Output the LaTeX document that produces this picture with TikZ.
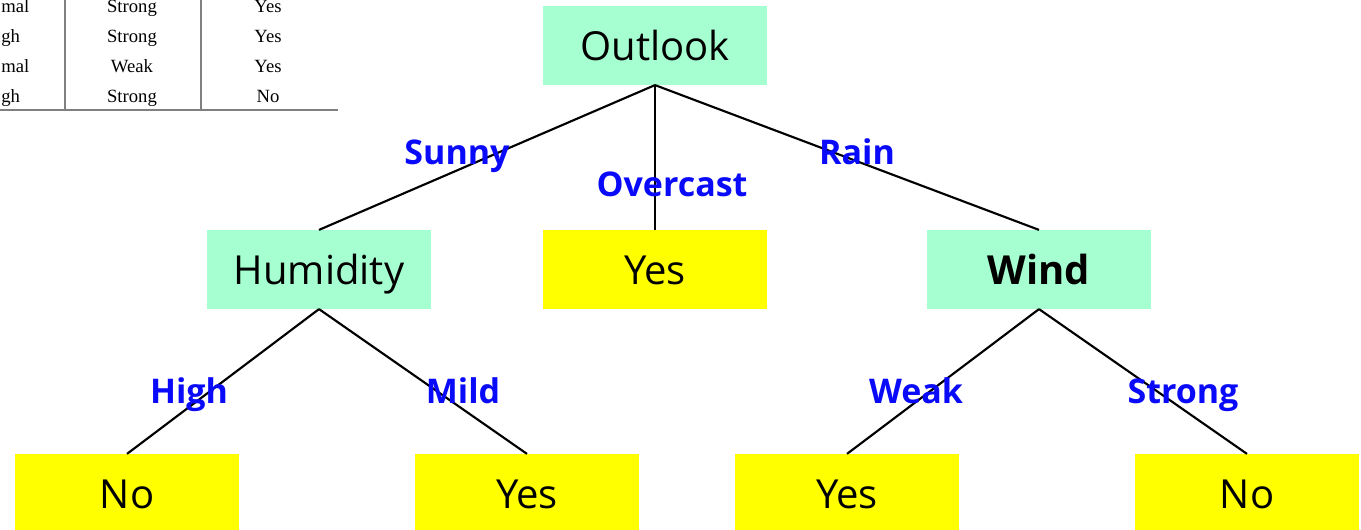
\documentclass[tikz,border=0pt]{standalone}
\usepackage{fontspec}
\setmainfont{Open Sans}
\newfontfamily\tablefont{Liberation Serif}
\usetikzlibrary{positioning}

\definecolor{attrgreen}{RGB}{166,255,208}
\definecolor{leafyellow}{RGB}{255,255,0}
\definecolor{branchblue}{RGB}{10,10,250}

\begin{document}
\begin{tikzpicture}[
        x=0.75pt, y=-0.75pt,
        attr/.style={rectangle, fill=attrgreen, minimum width=168pt, minimum height=59pt, inner sep=0pt, text height=22pt, text depth=0pt, font=\fontsize{30}{36}\selectfont},
        leaf/.style={rectangle, fill=leafyellow, minimum width=168pt, minimum height=59pt, inner sep=0pt, text height=22pt, text depth=0pt, font=\fontsize{30}{36}\selectfont},
        branch/.style={text=branchblue, font=\fontsize{25.5}{30}\selectfont\bfseries, inner sep=0pt, text height=18pt, text depth=0pt},
        edge/.style={draw=black, line width=1.6pt},
        cell/.style={font=\tablefont\fontsize{14}{16}\selectfont, inner sep=0pt, text height=9pt, text depth=0pt}
    ]

    \useasboundingbox (0,0) rectangle (1361,530);

    % Cropped data table, top left
    \node[cell, anchor=west] (c11) at (1,7) {mal};
    \node[cell, anchor=west] (c21) at (1,37) {gh};
    \node[cell, anchor=west] (c31) at (1,67) {mal};
    \node[cell, anchor=west] (c41) at (1,97) {gh};
    \node[cell] (c12) at (132,7) {Strong};
    \node[cell] (c22) at (132,37) {Strong};
    \node[cell] (c32) at (132,67) {Weak};
    \node[cell] (c42) at (132,97) {Strong};
    \node[cell] (c13) at (268,7) {Yes};
    \node[cell] (c23) at (268,37) {Yes};
    \node[cell] (c33) at (268,67) {Yes};
    \node[cell] (c43) at (268,97) {No};
    \coordinate (rulea) at (65,0);
    \coordinate (ruleb) at (201,0);
    \coordinate (rulel) at (0,110);
    \coordinate (ruler) at (338,110);
    \draw[gray, line width=0.9pt] (rulea) -- (rulea |- rulel);
    \draw[gray, line width=0.9pt] (ruleb) -- (ruleb |- rulel);
    \draw[gray, line width=0.9pt] (rulel) -- (ruler);

    % Root
    \node[attr] (outlook) at (655,45.5) {Outlook};

    % Second level
    \node[attr] (humidity) at (319,269.5) {Humidity};
    \node[leaf] (yesmid) at (655,269.5) {Yes};
    \node[attr] (wind) at (1039,269.5) {\bfseries Wind};

    % Leaves
    \node[leaf] (nohigh) at (127,493.5) {No};
    \node[leaf] (yesmild) at (527,493.5) {Yes};
    \node[leaf] (yesweak) at (847,493.5) {Yes};
    \node[leaf] (nostrong) at (1247,493.5) {No};

    % Branches
    \draw[edge] (outlook.south) -- (humidity.north);
    \draw[edge] (outlook.south) -- (yesmid.north);
    \draw[edge] (outlook.south) -- (wind.north);
    \draw[edge] (humidity.south) -- (nohigh.north);
    \draw[edge] (humidity.south) -- (yesmild.north);
    \draw[edge] (wind.south) -- (yesweak.north);
    \draw[edge] (wind.south) -- (nostrong.north);

    % Branch labels
    \node[branch] (lsunny) at (457,153) {Sunny};
    \node[branch] (lovercast) at (672,185) {Overcast};
    \node[branch] (lrain) at (857,153) {Rain};
    \node[branch] (lhigh) at (189,392) {High};
    \node[branch] (lmild) at (463,392) {Mild};
    \node[branch] (lweak) at (916,392) {Weak};
    \node[branch] (lstrong) at (1183,392) {Strong};

\end{tikzpicture}
\end{document}
